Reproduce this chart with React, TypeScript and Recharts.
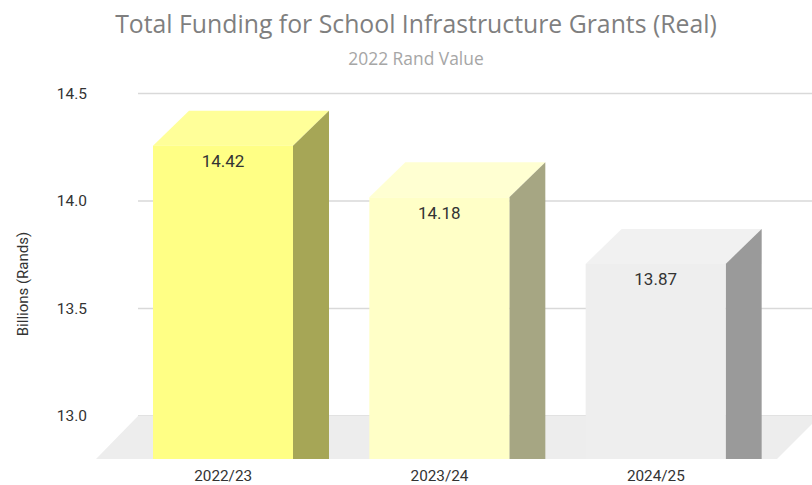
import React from "react";
import { BarChart, Bar, XAxis, YAxis, CartesianGrid, Cell, LabelList, ReferenceArea } from "recharts";

const categories = ["2022/23", "2023/24", "2024/25"];
const values = [14.42, 14.18, 13.87];
const yTicks = [13, 13.5, 14, 14.5];
const frontColors = ["#FFFF85", "#FFFFC7", "#EEEEEE"];
const topColors = ["#FFFF99", "#FFFFD2", "#F1F1F1"];
const sideColors = ["#A6A656", "#A6A683", "#9A9A9A"];
const titleText = "Total Funding for School Infrastructure Grants (Real)";
const subtitleText = "2022 Rand Value";
const yAxisTitle = "Billions (Rands)";

const data = categories.map((name, i) => ({ name, value: values[i], i }));
const FONT = "'Open Sans', 'Noto Sans', sans-serif";
const DX = 36;
const DY = 35;

function Box(props: any) {
  const { x, y, width, height, index } = props;
  const fy = y + DY;
  const b = y + height;
  const r = x + width;
  return (
    <g>
      <polygon points={`${x},${fy} ${x + DX},${y} ${r + DX},${y} ${r},${fy}`} fill={topColors[index]} />
      <polygon points={`${r},${fy} ${r + DX},${y} ${r + DX},${b} ${r},${b}`} fill={sideColors[index]} />
      <rect x={x} y={fy} width={width} height={b - fy} fill={frontColors[index]} />
    </g>
  );
}

function Floor(props: any) {
  const { y, height } = props;
  const b = y + height;
  return <polygon points={`96,${b} 138,${y} 820,${y} 777,${b}`} fill="#EDEDED" />;
}

function GridLine(props: any) {
  if (props.y1 > 450) return <g />;
  return <line x1={138} x2={812} y1={props.y1} y2={props.y2} stroke="#D9D9D9" strokeWidth={1.3} />;
}

function ValueLabel(props: any) {
  const { x, y, width, value } = props;
  return (
    <text x={x + width / 2} y={y + 50.5} textAnchor="middle" dominantBaseline="central" fontFamily="Roboto, sans-serif" fontSize={17} fill="#333333">
      {Number(value).toFixed(2)}
    </text>
  );
}

export default function App() {
  return (
    <div style={{ position: "absolute", left: 0, top: 0, width: 812, height: 485, background: "#fff", overflow: "hidden" }}>
      <div style={{ position: "absolute", left: 0, width: 832, top: 6, textAlign: "center", fontFamily: FONT, fontSize: 24.8, lineHeight: "34px", color: "#7F7F7F" }}>
        {titleText}
      </div>
      <div style={{ position: "absolute", left: 0, width: 832, top: 46, textAlign: "center", fontFamily: FONT, fontSize: 17.4, lineHeight: "24px", color: "#A6A6A6" }}>
        {subtitleText}
      </div>
      <BarChart width={812} height={485} data={data} margin={{ top: 93.5, right: 48, bottom: 0, left: 0 }} barCategoryGap={0}>
        <ReferenceArea y1={12.8} y2={13} shape={<Floor />} ifOverflow="visible" />
        <CartesianGrid vertical={false} horizontal={(p: any) => <GridLine key={p.index} {...p} />} />
        <XAxis
          dataKey="name"
          axisLine={false}
          tickLine={false}
          height={26}
          tickSize={0}
          tickMargin={11}
          tick={{ fontFamily: "Roboto, sans-serif", fontSize: 15.3, fill: "#333333" }}
        />
        <YAxis
          type="number"
          domain={[12.8, 14.5]}
          ticks={yTicks}
          width={115}
          axisLine={false}
          tickLine={false}
          tickSize={0}
          tickMargin={28}
          tickFormatter={(v: number) => v.toFixed(1)}
          tick={{ fontFamily: "Roboto, sans-serif", fontSize: 15.5, fill: "#333333", dy: -0.5 }}
          label={{ value: yAxisTitle, angle: -90, position: "insideLeft", dx: 18, dy: 60, fontFamily: "Roboto, sans-serif", fontSize: 15, fill: "#333333" }}
        />
        <Bar dataKey="value" barSize={140} isAnimationActive={false} shape={<Box />}>
          {data.map((d) => (
            <Cell key={d.name} fill={frontColors[d.i]} />
          ))}
          <LabelList dataKey="value" content={<ValueLabel />} />
        </Bar>
      </BarChart>
    </div>
  );
}
